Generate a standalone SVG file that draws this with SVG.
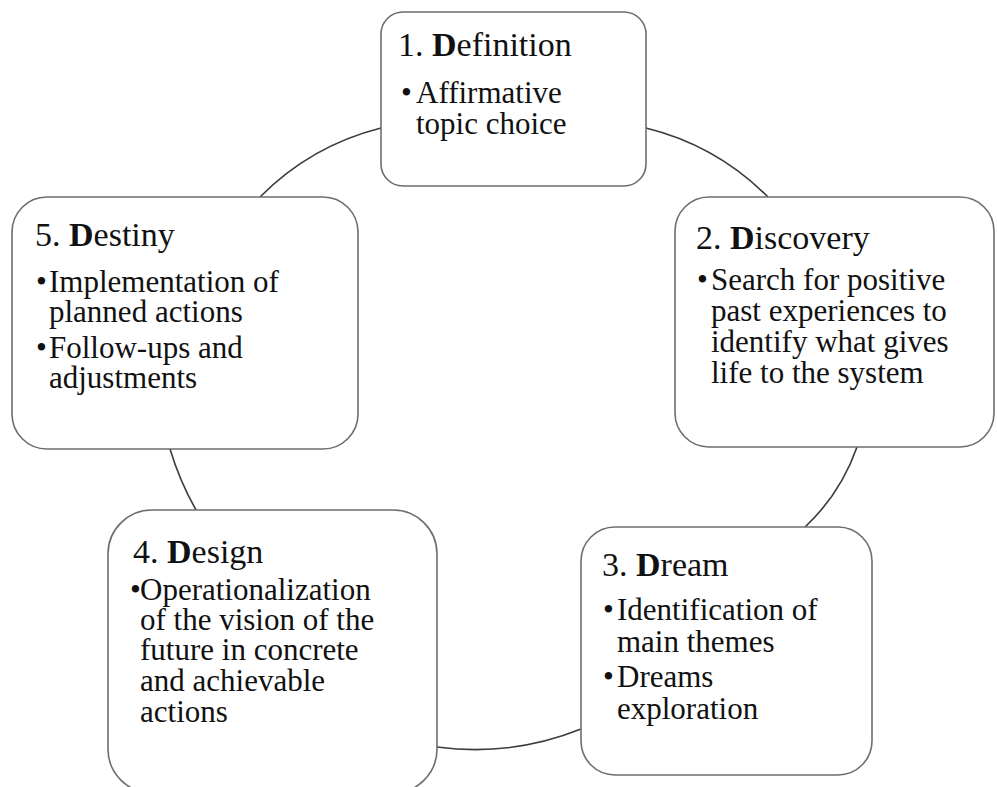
<svg xmlns="http://www.w3.org/2000/svg" width="997" height="787" viewBox="0 0 997 787">
<style>
.box{fill:#fff;stroke:#6e6e6e;stroke-width:1.6}
.conn{fill:none;stroke:#3c3c3c;stroke-width:1.6}
.t{font-family:"Liberation Serif","Times New Roman",serif;fill:#111;font-size:34px}
.b{font-family:"Liberation Serif","Times New Roman",serif;fill:#111;font-size:31px}
</style>
<rect width="997" height="787" fill="#fff"/>
<g id="connectors">
<path class="conn" d="M 260 197 A 260 260 0 0 1 381 128"/>
<path class="conn" d="M 646 128 A 260 260 0 0 1 768 197"/>
<path class="conn" d="M 857 447 A 200 200 0 0 1 805 527"/>
<path class="conn" d="M 581 729 A 286 286 0 0 1 437 747"/>
<path class="conn" d="M 196 510 A 300 300 0 0 1 170 449"/>
</g>
<g id="node1">
<rect class="box" x="381" y="12" width="265" height="174" rx="22"/>
<text class="t" x="398" y="56">1. <tspan font-weight="bold">D</tspan>efinition</text>
<text class="b" x="401" y="103">•</text>
<text class="b" x="416" y="103">Affirmative</text>
<text class="b" x="416" y="134">topic choice</text>
</g>
<g id="node2">
<rect class="box" x="675" y="197" width="319" height="250" rx="34"/>
<text class="t" x="696" y="249">2. <tspan font-weight="bold">D</tspan>iscovery</text>
<text class="b" x="697" y="290">•</text>
<text class="b" x="711" y="290">Search for positive</text>
<text class="b" x="711" y="321">past experiences to</text>
<text class="b" x="711" y="352">identify what gives</text>
<text class="b" x="711" y="383">life to the system</text>
</g>
<g id="node3">
<rect class="box" x="581" y="527" width="291" height="248" rx="34"/>
<text class="t" x="602" y="576">3. <tspan font-weight="bold">D</tspan>ream</text>
<text class="b" x="603" y="620">•</text>
<text class="b" x="617" y="620">Identification of</text>
<text class="b" x="617" y="652">main themes</text>
<text class="b" x="603" y="687">•</text>
<text class="b" x="617" y="687">Dreams</text>
<text class="b" x="617" y="719">exploration</text>
</g>
<g id="node4">
<rect class="box" x="108" y="510" width="329" height="283" rx="44"/>
<text class="t" x="133" y="563">4. <tspan font-weight="bold">D</tspan>esign</text>
<text class="b" x="130" y="600">•</text>
<text class="b" x="140" y="600">Operationalization</text>
<text class="b" x="140" y="630">of the vision of the</text>
<text class="b" x="140" y="660">future in concrete</text>
<text class="b" x="140" y="691">and achievable</text>
<text class="b" x="140" y="722">actions</text>
</g>
<g id="node5">
<rect class="box" x="12" y="197" width="346" height="252" rx="35"/>
<text class="t" x="35" y="246">5. <tspan font-weight="bold">D</tspan>estiny</text>
<text class="b" x="36" y="292">•</text>
<text class="b" x="49" y="292">Implementation of</text>
<text class="b" x="49" y="322">planned actions</text>
<text class="b" x="36" y="358">•</text>
<text class="b" x="49" y="358">Follow-ups and</text>
<text class="b" x="49" y="388">adjustments</text>
</g>
</svg>
